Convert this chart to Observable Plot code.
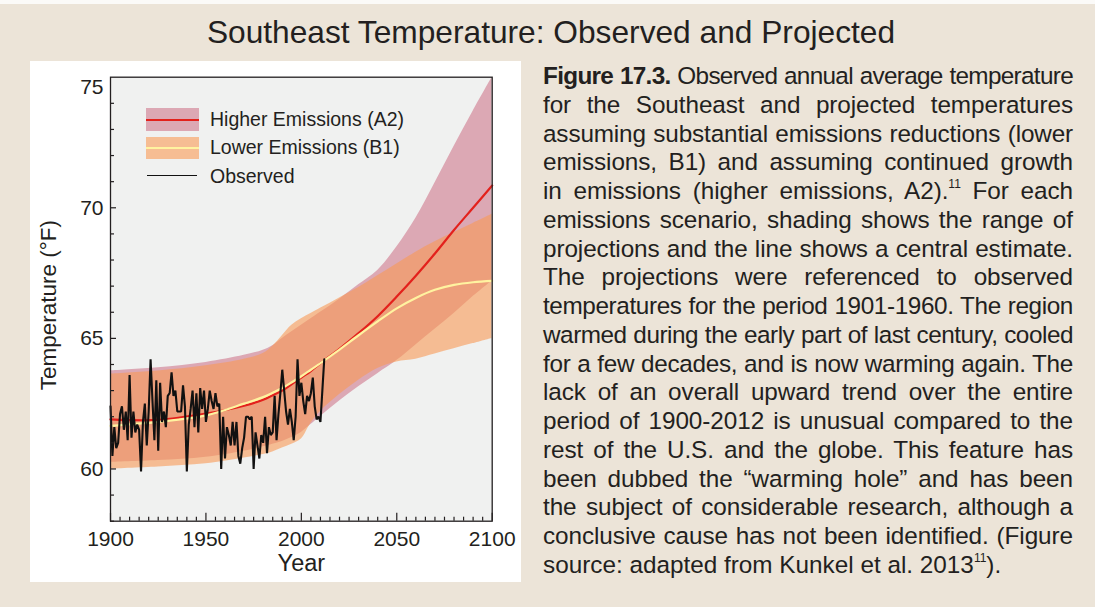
<!DOCTYPE html>
<html>
<head>
<meta charset="utf-8">
<script src="https://cdn.jsdelivr.net/npm/d3@7"></script>
<script src="https://cdn.jsdelivr.net/npm/@observablehq/plot@0.6"></script>
<style>
html,body{margin:0;padding:0;}
body{width:1095px;height:607px;background:#ece4d8;position:relative;overflow:hidden;font-family:"Liberation Sans",Arial,Helvetica,sans-serif;color:#231f20;}
#topstrip{position:absolute;left:0;top:0;width:1095px;height:4px;background:#fbfaf8;}
#title{position:absolute;left:0;width:1102px;top:12px;text-align:center;font-size:31.7px;line-height:40px;color:#231f20;}
#panel{position:absolute;left:30px;top:61px;width:491px;height:521px;background:#fff;}
#chart{position:absolute;left:30px;top:61px;width:490px;height:521px;}
.sw{position:absolute;}
.lt{position:absolute;left:210px;font-size:19.5px;line-height:24px;white-space:nowrap;color:#231f20;}
#caption{position:absolute;left:543px;top:62px;width:530px;font-size:24.3px;line-height:28.77px;color:#231f20;}
#caption div{text-align:justify;text-align-last:justify;white-space:normal;}
#caption div.last{text-align:left;text-align-last:left;}
#caption .m{white-space:nowrap;}
#caption sup{font-size:12px;line-height:0;vertical-align:baseline;position:relative;top:-11px;letter-spacing:0;}
</style>
</head>
<body>
<div id="topstrip"></div>
<div id="title"></div>
<div id="panel"></div>
<div id="chart"></div>
<div id="legend"></div>
<div id="caption"></div>
<script>
// ---- Data ----
const projYears = [1900, 1925, 1950, 1970, 1980, 1985, 1990, 1995, 2000, 2005, 2010, 2020, 2030, 2040, 2050, 2060, 2070, 2080, 2090, 2100];
const a2High = [63.76, 63.88, 64.08, 64.35, 64.55, 64.72, 65.0, 65.25, 65.5, 65.75, 66.0, 66.5, 67.05, 67.6, 68.5, 69.6, 70.95, 72.35, 73.7, 75.0];
const a2Low  = [60.25, 60.32, 60.45, 60.68, 60.85, 60.95, 61.05, 61.2, 61.4, 61.7, 62.0, 62.6, 63.15, 63.65, 64.15, 64.75, 65.35, 65.95, 66.6, 67.2];
const a2Mid  = [61.9, 61.88, 62.12, 62.42, 62.65, 62.82, 63.0, 63.25, 63.5, 63.75, 64.05, 64.6, 65.2, 65.85, 66.6, 67.4, 68.25, 69.15, 70.0, 70.85];
const b1High = [63.63, 63.75, 63.95, 64.2, 64.42, 64.7, 65.1, 65.5, 65.75, 65.95, 66.15, 66.55, 66.95, 67.4, 67.85, 68.3, 68.7, 69.05, 69.4, 69.75];
const b1Low  = [60.0, 60.08, 60.2, 60.42, 60.55, 60.65, 60.8, 60.95, 61.15, 61.75, 62.2, 62.85, 63.4, 63.85, 64.1, 64.2, 64.4, 64.6, 64.8, 65.0];
const b1Mid  = [61.65, 61.8, 62.05, 62.5, 62.75, 62.92, 63.1, 63.32, 63.55, 63.8, 64.05, 64.57, 65.12, 65.65, 66.15, 66.55, 66.86, 67.05, 67.15, 67.2];

const obsStart = 1900;
const obsTemps = [
  62.4, 60.5, 61.6, 60.8, 61.0, 62.1, 62.4, 61.5, 62.2, 61.1, // 1900s
  63.6, 61.2, 62.2, 61.4, 61.7, 61.5, 59.9, 61.8, 62.5, 60.9, // 1910s
  62.2, 64.2, 62.6, 61.1, 63.4, 60.7, 63.3, 61.8, 62.2, 61.6, // 1920s
  62.8, 62.9, 63.7, 62.8, 63.0, 62.2, 62.2, 62.2, 63.2, 62.4, // 1930s
  59.9, 61.7, 62.3, 63.0, 61.6, 62.9, 61.4, 63.1, 62.3, 63.0, // 1940s
  61.8, 62.3, 63.0, 62.6, 62.3, 62.9, 62.4, 62.5, 60.0, 62.0, // 1950s
  60.4, 61.6, 61.3, 60.9, 61.8, 60.9, 61.8, 60.5, 60.2, 60.8, // 1960s
  61.2, 62.0, 62.0, 61.9, 62.0, 60.0, 61.4, 60.9, 60.4, 61.3, // 1970s
  61.0, 62.0, 60.6, 61.6, 61.3, 61.4, 62.8, 61.1, 62.1, 62.9, // 1980s
  63.8, 63.0, 62.2, 61.7, 62.3, 61.8, 61.1, 62.0, 64.2, 62.8, // 1990s
  63.3, 62.6, 62.1, 62.8, 62.6, 62.9, 63.5, 62.4, 61.9, 62.0, // 2000s
  61.8, 63.0, 64.2                                            // 2010-2012
];

const xMajor = [1900, 1950, 2000, 2050, 2100];
const yMajor = [60, 65, 70];
const yTop = [75];
const xDomain = [1900, 2100];
const yDomain = [58, 75];

const legendLabels = ["Higher Emissions (A2)", "Lower Emissions (B1)", "Observed"];
const titleText = "Southeast Temperature: Observed and Projected";
const xLabel = "Year";
const yLabel = "Temperature (°F)";

// ---- Derived tables ----
const proj = projYears.map((year, i) => ({year, a2High: a2High[i], a2Low: a2Low[i], a2Mid: a2Mid[i], b1High: b1High[i], b1Low: b1Low[i], b1Mid: b1Mid[i]}));
const obs = obsTemps.map((temp, i) => ({year: obsStart + i, temp}));
const xMinor = d3.range(xDomain[0], xDomain[1] + 1, 5).filter(v => !xMajor.includes(v));
const yMinor = d3.range(yDomain[0], yDomain[1] + 1, 1).filter(v => !yMajor.includes(v) && !yTop.includes(v));

const ink = "#231f20";
const chart = Plot.plot({
  width: 490,
  height: 521,
  marginLeft: 80,
  marginRight: 28.3,
  marginTop: 15.7,
  marginBottom: 61.3,
  x: {domain: xDomain},
  y: {domain: yDomain},
  style: {fontFamily: "'Liberation Sans', Arial, sans-serif", fontSize: "21px", color: ink, background: "transparent", overflow: "visible"},
  marks: [
    Plot.frame({fill: "#f0f1f0", stroke: null}),
    Plot.areaY(proj, {x: "year", y1: "a2Low", y2: "a2High", fill: "#dca8b4", curve: "catmull-rom", clip: true}),
    Plot.areaY(proj, {x: "year", y1: "b1Low", y2: "b1High", fill: "rgb(248,154,85)", fillOpacity: 0.6, curve: "catmull-rom", clip: true}),
    Plot.lineY(proj, {x: "year", y: "a2Mid", stroke: "#e3211c", strokeWidth: 2.2, curve: "catmull-rom"}),
    Plot.lineY(proj, {x: "year", y: "b1Mid", stroke: "#fff3a0", strokeWidth: 2.2, curve: "catmull-rom"}),
    Plot.lineY(obs, {x: "year", y: "temp", stroke: "#111", strokeWidth: 2.1, strokeLinejoin: "miter"}),
    Plot.axisX(xMinor, {tickSize: -4, fill: "none", stroke: ink, strokeWidth: 1.2, label: null}),
    Plot.axisX(xMajor, {tickSize: -8, tickPadding: 18, tickFormat: d => String(d), stroke: ink, strokeWidth: 1.2, fill: ink, fontSize: 21, label: null}),
    Plot.axisY(yMinor, {tickSize: -4, fill: "none", stroke: ink, strokeWidth: 1.2, label: null}),
    Plot.axisY(yMajor, {tickSize: -6, tickPadding: 13, tickFormat: d => String(d), stroke: ink, strokeWidth: 1.2, fill: ink, fontSize: 21, label: null}),
    Plot.axisY(yTop, {tickSize: 0, tickPadding: 7, dy: 10, tickFormat: d => String(d), fill: ink, fontSize: 21, label: null}),
    Plot.text([xLabel], {text: d => d, frameAnchor: "bottom", lineAnchor: "middle", dy: 42, fontSize: 23.5, fill: ink}),
    Plot.text([yLabel], {text: d => d, frameAnchor: "left", textAnchor: "middle", lineAnchor: "middle", rotate: -90, dx: -62, dy: 6, fontSize: 22.5, fill: ink}),
    Plot.frame({stroke: ink, strokeWidth: 1.3})
  ]
});
document.getElementById("chart").appendChild(chart);

// ---- Legend (HTML overlay) ----
document.getElementById("legend").innerHTML = `
  <div class="sw" style="left:146px;top:108px;width:53px;height:23px;background:#dca8b4"></div>
  <div class="sw" style="left:146px;top:118.5px;width:53px;height:2px;background:#e3211c"></div>
  <div class="sw" style="left:146px;top:137px;width:53px;height:22px;background:#f6bd93"></div>
  <div class="sw" style="left:146px;top:147px;width:53px;height:2px;background:#fff3a0"></div>
  <div class="sw" style="left:147px;top:174.5px;width:50px;height:1.4px;background:#111"></div>
  <div class="lt" style="top:107px">${legendLabels[0]}</div>
  <div class="lt" style="top:135px">${legendLabels[1]}</div>
  <div class="lt" style="top:164px">${legendLabels[2]}</div>`;

document.getElementById("title").textContent = titleText;

// ---- Caption ----
const captionLines = [
  "<b>Figure 17.3.</b> Observed annual average temperature",
  "for the Southeast and projected temperatures",
  "assuming substantial emissions reductions (lower",
  "emissions, B1) and assuming continued growth",
  "in emissions (higher emissions, A2).<sup>11</sup> For each",
  "emissions scenario, shading shows the range of",
  "projections and the line shows a central estimate.",
  "The projections were referenced to observed",
  "temperatures for the period 1901-1960. The region",
  "warmed during the early part of last century, cooled",
  "for a few decades, and is now warming again. The",
  "lack of an overall upward trend over the entire",
  "period of 1900-2012 is unusual compared to the",
  "rest of the U.S. and the globe. This feature has",
  "been dubbed the \u201Cwarming hole\u201D and has been",
  "the subject of considerable research, although a",
  "conclusive cause has not been identified. (Figure",
  "source: adapted from Kunkel et al. 2013<sup>11</sup>)."
];
const cap = document.getElementById("caption");
const boxW = 529;
captionLines.forEach((html, i) => {
  const div = document.createElement("div");
  if (i === captionLines.length - 1) div.className = "last";
  div.innerHTML = `<span class="m">${html}</span>`;
  cap.appendChild(div);
  const span = div.firstChild;
  const w = span.getBoundingClientRect().width;
  const n = span.textContent.length;
  if (w > boxW) div.style.letterSpacing = ((boxW - w) / n - 0.05).toFixed(3) + "px";
  else div.style.letterSpacing = "0px";
  div.innerHTML = html;
});
</script>
</body>
</html>
